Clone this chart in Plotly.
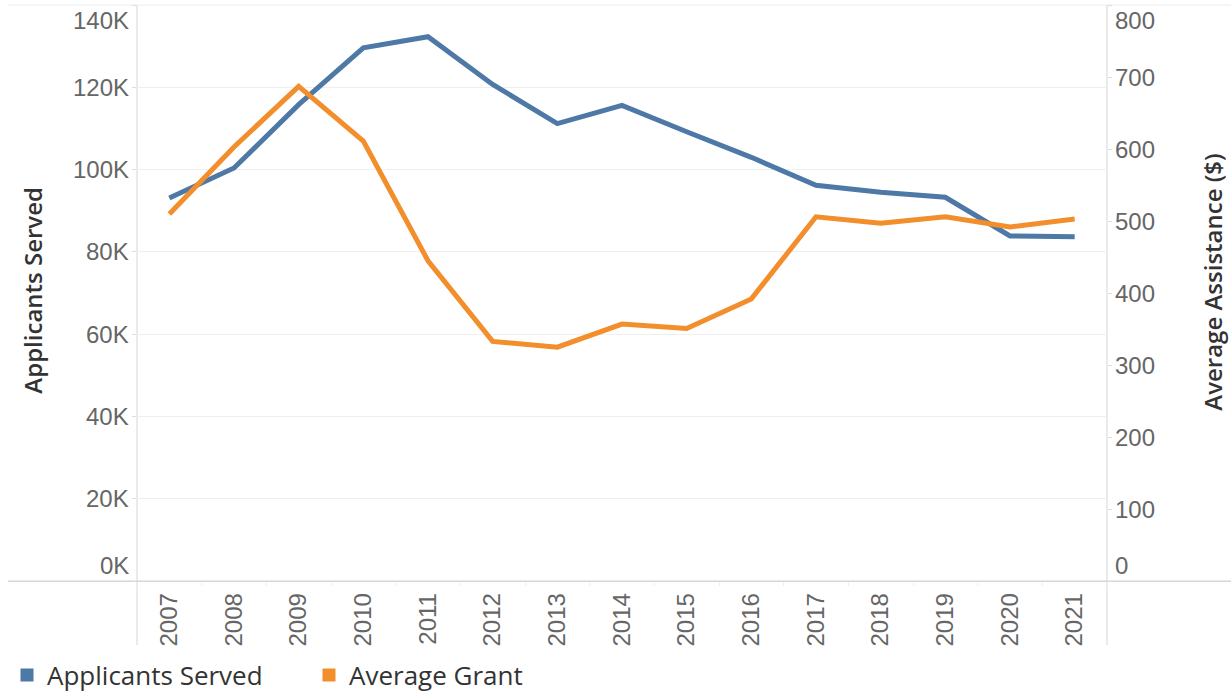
import plotly.graph_objects as go

# ---- data ----
years = ["2007", "2008", "2009", "2010", "2011", "2012", "2013", "2014",
         "2015", "2016", "2017", "2018", "2019", "2020", "2021"]
applicants_served = [93100, 100400, 115800, 129600, 132300, 120700, 111200, 115600,
                     109200, 103000, 96200, 94500, 93300, 83900, 83700]
average_grant = [510, 603, 687, 611, 445, 333, 325, 357,
                 351, 392, 506, 497, 506, 492, 503]

left_ticks = [0, 20000, 40000, 60000, 80000, 100000, 120000, 140000]
left_tick_labels = ["0K", "20K", "40K", "60K", "80K", "100K", "120K", "140K"]
right_ticks = [0, 100, 200, 300, 400, 500, 600, 700, 800]
right_tick_labels = ["0", "100", "200", "300", "400", "500", "600", "700", "800"]

series_names = ["Applicants Served", "Average Grant"]
colors = ["#4E79A7", "#F28E2B"]

# ---- layout constants ----
W, H = 1231, 692
ML, MR, MT, MB = 137, 124, 5, 108
PW = W - ML - MR
PH = H - MT - MB

TICK_FONT = dict(family="Liberation Sans, Arial, sans-serif", size=24, color="#666666")
TITLE_FONT = dict(family="Open Sans, sans-serif", size=24, color="#333333", weight=600)
BORDER = "#d6d6d6"

fig = go.Figure()

fig.add_trace(go.Scatter(x=years, y=applicants_served, mode="lines", name=series_names[0],
                         line=dict(color=colors[0], width=5), showlegend=False, yaxis="y"))
fig.add_trace(go.Scatter(x=years, y=average_grant, mode="lines", name=series_names[1],
                         line=dict(color=colors[1], width=5), showlegend=False, yaxis="y2"))

# legend entries with square swatches
for name, c in zip(series_names, colors):
    fig.add_trace(go.Scatter(x=[None], y=[None], mode="markers", name=name,
                             marker=dict(symbol="square", size=13, color=c), showlegend=True))


def px_x(p):
    return (p - ML) / PW


def px_y(p):
    return (H - MB - p) / PH


annotations = []
for v, t in zip(left_ticks, left_tick_labels):
    anchor = "top" if v == left_ticks[-1] else ("bottom" if v == left_ticks[0] else "middle")
    annotations.append(dict(x=0, xref="paper", y=v, yref="y", text=t, showarrow=False,
                            xanchor="right", yanchor=anchor, xshift=-6, font=TICK_FONT))
for v, t in zip(right_ticks, right_tick_labels):
    anchor = "top" if v == right_ticks[-1] else ("bottom" if v == right_ticks[0] else "middle")
    annotations.append(dict(x=1, xref="paper", y=v, yref="y2", text=t, showarrow=False,
                            xanchor="left", yanchor=anchor, xshift=6, font=TICK_FONT))

annotations.append(dict(x=px_x(33), xref="paper", y=px_y(292), yref="paper",
                        text="Applicants Served", textangle=-90, showarrow=False,
                        xanchor="center", yanchor="middle", font=TITLE_FONT))
annotations.append(dict(x=px_x(1213), xref="paper", y=px_y(284), yref="paper",
                        text="Average Assistance ($)", textangle=-90, showarrow=False,
                        xanchor="center", yanchor="middle", font=TITLE_FONT))

shapes = [
    dict(type="line", xref="paper", yref="paper", x0=px_x(8), x1=px_x(W), y0=0, y1=0,
         line=dict(color=BORDER, width=1.5), layer="below"),
    dict(type="line", xref="paper", yref="paper", x0=px_x(8), x1=px_x(W), y0=1, y1=1,
         line=dict(color="#ececec", width=1), layer="below"),
    dict(type="line", xref="paper", yref="paper", x0=0, x1=0, y0=px_y(648), y1=1,
         line=dict(color=BORDER, width=1), layer="below"),
    dict(type="line", xref="paper", yref="paper", x0=1, x1=1, y0=px_y(648), y1=1,
         line=dict(color=BORDER, width=1), layer="below"),
]

fig.update_layout(
    width=W, height=H,
    margin=dict(l=ML, r=MR, t=MT, b=MB, pad=0),
    paper_bgcolor="white", plot_bgcolor="white",
    xaxis=dict(type="category", showgrid=False, zeroline=False, showline=False,
               tickangle=-90, tickfont=TICK_FONT, ticks="outside", tickson="boundaries",
               ticklen=4, tickcolor="#eeeeee", ticklabelstandoff=6,
               range=[-0.5, len(years) - 0.5]),
    yaxis=dict(range=[0, 140000], tickvals=left_ticks, showticklabels=False,
               showgrid=True, gridcolor="#efefef", gridwidth=1, zeroline=False,
               showline=False, ticks="outside", ticklen=4, tickcolor="#dddddd"),
    yaxis2=dict(range=[0, 800], tickvals=right_ticks, showticklabels=False,
                overlaying="y", side="right", showgrid=False, zeroline=False,
                showline=False, ticks="outside", ticklen=4, tickcolor="#dddddd"),
    legend=dict(orientation="h", xref="container", yref="container",
                x=7 / W, y=(H - 675) / H, xanchor="left", yanchor="middle",
                font=dict(family="Open Sans, sans-serif", size=26, color="#333333"),
                bgcolor="rgba(0,0,0,0)", itemclick=False, entrywidth=257),
    annotations=annotations,
    shapes=shapes,
    showlegend=True,
)

fig.write_html("out.html",
               config={"displayModeBar": False},
               post_script="document.body.style.margin='0px';document.body.style.overflow='hidden';")
